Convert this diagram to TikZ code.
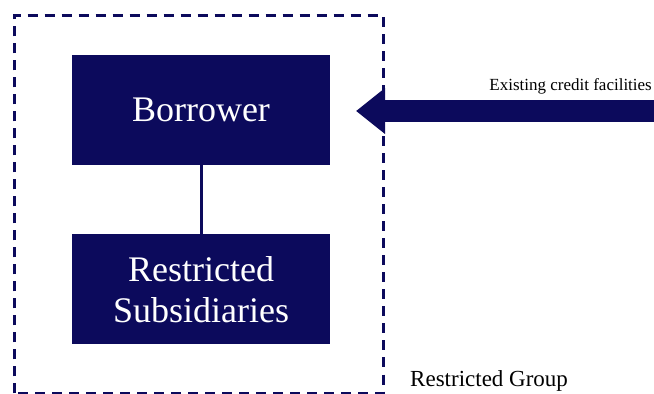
\documentclass[tikz,border=0pt]{standalone}
\usepackage{fontspec}
\setmainfont{Liberation Serif}
\usepackage{xcolor}
\usepackage{tikz}
\usetikzlibrary{arrows.meta,positioning}
\definecolor{cNavy}{HTML}{0C0A5C}
\tikzset{
  entity/.style={draw=none, fill=cNavy, text=white, align=center, minimum width=258pt,
                 minimum height=110pt, inner sep=0pt, font=\fontsize{36}{41}\selectfont},
  node distance=69pt,
  group/.style={draw=cNavy, line width=3pt, dash pattern=on 10pt off 7pt},
  link/.style={draw=cNavy, line width=3pt},
  facility/.style={-{Triangle[length=29pt 0,width=44pt 0]}, line width=22pt, draw=cNavy},
  lbl/.style={font=\fontsize{17}{20}\selectfont, inner sep=0pt},
}
\begin{document}
\begin{tikzpicture}[x=1pt, y=1pt]
  \useasboundingbox (0,0) rectangle (654,394);
  \node[entity] (borrower) at (201,284) {Borrower};
  \node[entity, below=of borrower] (subsid) {Restricted\\Subsidiaries};
  \draw[link] (borrower) -- (subsid);
  \draw[group] (14,0.5) rectangle (383,378);
  \coordinate (src) at (654,283);
  \coordinate (tip) at (356,283);
  \draw[facility] (src) -- (tip);
  \node[lbl, anchor=base east] (credit) at (652,303) {Existing credit facilities};
  \node[lbl, font=\fontsize{23}{27}\selectfont, anchor=base west] (rgroup) at (410,7) {Restricted Group};
\end{tikzpicture}
\end{document}
